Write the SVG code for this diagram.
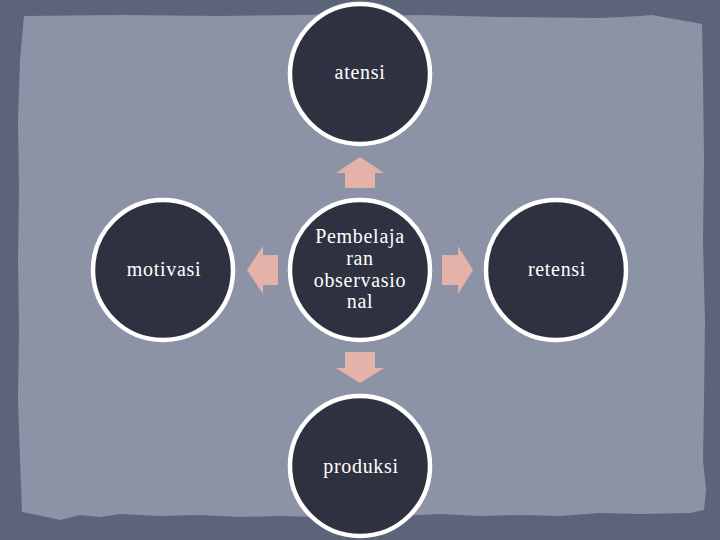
<svg xmlns="http://www.w3.org/2000/svg" width="720" height="540" viewBox="0 0 720 540">
  <style>
    .node circle { fill: #2e3240; stroke: #ffffff; stroke-width: 4.5; }
    .node text { fill: #ffffff; font-family: "Liberation Serif", "DejaVu Serif", serif; font-size: 20px; letter-spacing: 0.7px; text-anchor: middle; }
    .arrow { fill: #e5b2a9; }
  </style>
  <g id="background">
    <rect x="0" y="0" width="720" height="540" fill="#5c6479"/>
    <path d="M24,16 L120,15 L220,16 L300,15 L340,14 L360,16 L420,15 L500,17 L600,18 L640,16 L652,15 L680,20 L702,24 L703,80 L704,160 L703,240 L705,320 L704,400 L703,460 L706,490 L704,510 L690,513 L640,514 L600,513 L560,516 L520,515 L480,516 L440,514 L400,516 L360,515 L320,517 L280,516 L240,517 L200,515 L160,516 L120,514 L100,517 L80,515 L60,520 L42,516 L22,512 L20,460 L18,400 L19,330 L18,260 L19,190 L18,120 L20,60 Z" fill="#8c93a6"/>
  </g>
  <g id="connectors">
    <polygon id="arrow-up" class="arrow" points="345,188 345,173 336,173 360,157 384,173 375,173 375,188"/>
    <polygon id="arrow-left" class="arrow" points="278,255 263,255 263,246 247,270 263,294 263,285 278,285"/>
    <polygon id="arrow-right" class="arrow" points="442,255 458,255 458,246 473,270 458,294 458,285 442,285"/>
    <polygon id="arrow-down" class="arrow" points="345,352 345,368 336,368 360,383 384,368 375,368 375,352"/>
  </g>
  <g id="node-atensi" class="node">
    <circle cx="360" cy="74" r="70"/>
    <text x="360" y="79">atensi</text>
  </g>
  <g id="node-motivasi" class="node">
    <circle cx="163" cy="270" r="70"/>
    <text x="164" y="276">motivasi</text>
  </g>
  <g id="node-center" class="node">
    <circle cx="360" cy="270" r="70"/>
    <text x="360" y="243">Pembelaja</text>
    <text x="360" y="265">ran</text>
    <text x="360" y="287">observasio</text>
    <text x="360" y="308">nal</text>
  </g>
  <g id="node-retensi" class="node">
    <circle cx="556" cy="270" r="70"/>
    <text x="557" y="276">retensi</text>
  </g>
  <g id="node-produksi" class="node">
    <circle cx="360" cy="466" r="70"/>
    <text x="361" y="473">produksi</text>
  </g>
</svg>
